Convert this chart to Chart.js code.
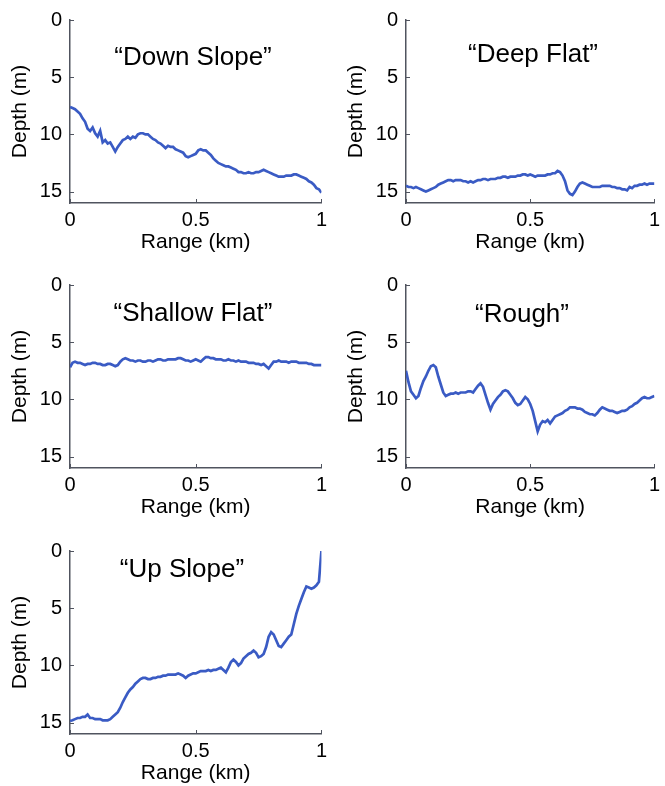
<!DOCTYPE html>
<html>
<head>
<meta charset="utf-8">
<script src="https://cdn.jsdelivr.net/npm/chart.js@4.4.0/dist/chart.umd.min.js"></script>
<style>
  body { margin: 0; background: #fff; }
  #wrap { position: relative; width: 665px; height: 786px; }
  #wrap canvas { position: absolute; }
</style>
</head>
<body>
<div id="wrap"></div>
<script>
// range along track (km), shared by all five profiles
const range = [
  0, 0.01, 0.02, 0.03, 0.04, 0.05, 0.06, 0.07, 0.08, 0.09,
  0.10, 0.11, 0.12, 0.13, 0.14, 0.15, 0.16, 0.17, 0.18, 0.19,
  0.20, 0.21, 0.22, 0.23, 0.24, 0.25, 0.26, 0.27, 0.28, 0.29,
  0.30, 0.31, 0.32, 0.33, 0.34, 0.35, 0.36, 0.37, 0.38, 0.39,
  0.40, 0.41, 0.42, 0.43, 0.44, 0.45, 0.46, 0.47, 0.48, 0.49,
  0.50, 0.51, 0.52, 0.53, 0.54, 0.55, 0.56, 0.57, 0.58, 0.59,
  0.60, 0.61, 0.62, 0.63, 0.64, 0.65, 0.66, 0.67, 0.68, 0.69,
  0.70, 0.71, 0.72, 0.73, 0.74, 0.75, 0.76, 0.77, 0.78, 0.79,
  0.80, 0.81, 0.82, 0.83, 0.84, 0.85, 0.86, 0.87, 0.88, 0.89,
  0.90, 0.91, 0.92, 0.93, 0.94, 0.95, 0.96, 0.97, 0.98, 0.99,
  1.00
];

// depth (m) for each profile
const downSlope = [
  7.6, 7.7, 7.8, 8.0, 8.2, 8.6, 8.9, 9.5, 9.7, 9.4,
  9.9, 10.2, 9.7, 10.7, 10.5, 10.8, 10.7, 11.1, 11.5, 11.1,
  10.8, 10.5, 10.4, 10.2, 10.4, 10.2, 10.3, 10.0, 9.9, 9.9,
  10.0, 10.0, 10.2, 10.4, 10.5, 10.7, 10.8, 11.0, 11.2, 11.0,
  11.1, 11.1, 11.3, 11.4, 11.5, 11.6, 11.9, 12.0, 11.9, 11.8,
  11.7, 11.4, 11.3, 11.4, 11.4, 11.6, 11.8, 12.1, 12.3, 12.5,
  12.6, 12.7, 12.8, 12.8, 12.9, 13.0, 13.1, 13.3, 13.3, 13.4,
  13.4, 13.3, 13.4, 13.4, 13.3, 13.3, 13.2, 13.1, 13.2, 13.3,
  13.4, 13.5, 13.6, 13.7, 13.7, 13.7, 13.6, 13.6, 13.6, 13.5,
  13.5, 13.6, 13.7, 13.8, 13.9, 14.1, 14.2, 14.4, 14.7, 14.8,
  15.1
];
const deepFlat = [
  14.5, 14.6, 14.6, 14.7, 14.6, 14.7, 14.8, 14.9, 15.0, 14.9,
  14.8, 14.7, 14.6, 14.4, 14.3, 14.2, 14.1, 14.0, 14.0, 14.1,
  14.0, 14.0, 14.0, 14.1, 14.1, 14.2, 14.1, 14.2, 14.1, 14.0,
  14.0, 13.9, 13.9, 14.0, 13.9, 13.9, 13.9, 13.8, 13.8, 13.7,
  13.7, 13.8, 13.7, 13.7, 13.7, 13.6, 13.6, 13.5, 13.5, 13.6,
  13.5, 13.6, 13.7, 13.6, 13.6, 13.6, 13.6, 13.5, 13.5, 13.4,
  13.4, 13.2, 13.3, 13.6, 14.1, 14.9, 15.2, 15.3, 15.0, 14.6,
  14.3, 14.2, 14.3, 14.4, 14.5, 14.6, 14.6, 14.6, 14.6, 14.5,
  14.5, 14.5, 14.5, 14.6, 14.6, 14.7, 14.7, 14.8, 14.8, 14.9,
  14.6, 14.7, 14.5, 14.5, 14.4, 14.4, 14.3, 14.4, 14.3, 14.3,
  14.3
];
const shallowFlat = [
  7.2, 6.8, 6.7, 6.8, 6.8, 6.9, 7.0, 6.9, 6.9, 6.8,
  6.8, 6.9, 6.9, 7.0, 7.0, 6.9, 6.9, 7.0, 7.1, 7.0,
  6.7, 6.5, 6.4, 6.5, 6.6, 6.6, 6.7, 6.6, 6.6, 6.7,
  6.7, 6.6, 6.6, 6.7, 6.6, 6.5, 6.5, 6.6, 6.6, 6.5,
  6.5, 6.5, 6.5, 6.4, 6.4, 6.5, 6.6, 6.6, 6.7, 6.6,
  6.5, 6.6, 6.7, 6.5, 6.3, 6.3, 6.4, 6.4, 6.5, 6.5,
  6.5, 6.6, 6.6, 6.5, 6.6, 6.6, 6.7, 6.6, 6.7, 6.7,
  6.7, 6.8, 6.8, 6.8, 6.9, 6.9, 7.0, 6.9, 7.1, 7.3,
  7.0, 6.7, 6.7, 6.6, 6.7, 6.7, 6.7, 6.8, 6.7, 6.7,
  6.7, 6.8, 6.8, 6.8, 6.8, 6.9, 6.9, 7.0, 7.0, 7.0,
  7.0
];
const rough = [
  7.5, 8.5, 9.3, 9.6, 9.9, 9.7, 9.0, 8.4, 8.0, 7.5,
  7.1, 7.0, 7.2, 8.0, 8.7, 9.4, 9.7, 9.6, 9.5, 9.5,
  9.4, 9.5, 9.4, 9.4, 9.4, 9.3, 9.3, 9.4, 9.1, 8.8,
  8.6, 8.9, 9.6, 10.3, 10.9, 10.4, 10.1, 9.8, 9.6, 9.3,
  9.2, 9.3, 9.6, 9.9, 10.3, 10.5, 10.4, 10.1, 9.8, 10.0,
  10.4, 11.0, 11.9, 12.8, 12.2, 11.9, 12.0, 11.8, 12.1, 11.8,
  11.5, 11.4, 11.3, 11.2, 11.0, 10.9, 10.7, 10.7, 10.7, 10.8,
  10.8, 10.9, 11.1, 11.2, 11.3, 11.3, 11.4, 11.2, 10.9, 10.7,
  10.8, 10.9, 11.0, 11.0, 11.1, 11.2, 11.1, 11.0, 11.0, 10.9,
  10.7, 10.6, 10.4, 10.3, 10.1, 9.9, 9.8, 9.9, 9.9, 9.8,
  9.7
];
const upSlope = [
  14.85, 14.8, 14.7, 14.6, 14.6, 14.5, 14.5, 14.3, 14.6, 14.6,
  14.7, 14.7, 14.7, 14.8, 14.8, 14.8, 14.7, 14.5, 14.3, 14.1,
  13.7, 13.2, 12.8, 12.4, 12.1, 11.9, 11.6, 11.4, 11.2, 11.1,
  11.1, 11.2, 11.2, 11.1, 11.1, 11.0, 11.0, 10.9, 10.9, 10.8,
  10.8, 10.8, 10.8, 10.7, 10.8, 10.9, 11.1, 10.9, 10.8, 10.7,
  10.7, 10.6, 10.5, 10.5, 10.5, 10.4, 10.5, 10.4, 10.4, 10.3,
  10.2, 10.4, 10.6, 10.2, 9.7, 9.5, 9.7, 10.0, 9.8, 9.4,
  9.2, 9.0, 8.9, 8.7, 8.9, 9.3, 9.2, 9.0, 8.4, 7.5,
  7.1, 7.3, 7.8, 8.3, 8.4, 8.1, 7.8, 7.5, 7.3, 6.4,
  5.5, 4.8, 4.2, 3.6, 3.1, 3.2, 3.3, 3.2, 3.0, 2.7,
  0.0
];

const depthTicks = [0, 5, 10, 15];
const rangeTicks = [0, 0.5, 1];
const rangeTickText = ['0', '0.5', '1'];

const family = '"Liberation Sans", Arial, sans-serif';
const axisColor = '#50545f';
const lineColor = '#3a5bc4';

// title text drawn inside the plot area
const panelTitle = {
  id: 'panelTitle',
  afterDatasetsDraw(chart, args, opts) {
    const {ctx, chartArea} = chart;
    ctx.save();
    ctx.font = '26px ' + family;
    ctx.fillStyle = '#000';
    ctx.textAlign = 'center';
    ctx.textBaseline = 'middle';
    ctx.fillText(opts.text, chartArea.left + opts.dx, chartArea.top + opts.dy);
    ctx.restore();
  }
};

// small matlab style ticks pointing into the plot
const innerTicks = {
  id: 'innerTicks',
  afterDraw(chart) {
    const {ctx, chartArea, scales} = chart;
    ctx.save();
    ctx.strokeStyle = axisColor;
    ctx.lineWidth = 1;
    scales.x.ticks.forEach(t => {
      const px = Math.round(scales.x.getPixelForValue(t.value)) + 0.5;
      ctx.beginPath();
      ctx.moveTo(px, chartArea.bottom);
      ctx.lineTo(px, chartArea.bottom - 4);
      ctx.stroke();
    });
    scales.y.ticks.forEach(t => {
      const py = Math.round(scales.y.getPixelForValue(t.value)) + 0.5;
      ctx.beginPath();
      ctx.moveTo(chartArea.left, py);
      ctx.lineTo(chartArea.left + 4, py);
      ctx.stroke();
    });
    ctx.restore();
  }
};

const panels = [
  {text: '“Down Slope”', depth: downSlope, left: 0, top: 0, width: 332, padRight: 8, dx: 123, dy: 38},
  {text: '“Deep Flat”', depth: deepFlat, left: 336, top: 0, width: 329, padRight: 7, dx: 127, dy: 35},
  {text: '“Shallow Flat”', depth: shallowFlat, left: 0, top: 265, width: 332, padRight: 8, dx: 123, dy: 29},
  {text: '“Rough”', depth: rough, left: 336, top: 265, width: 329, padRight: 7, dx: 116, dy: 30},
  {text: '“Up Slope”', depth: upSlope, left: 0, top: 531, width: 332, padRight: 8, dx: 112, dy: 19}
];

const wrap = document.getElementById('wrap');

panels.forEach(p => {
  const canvas = document.createElement('canvas');
  canvas.width = p.width;
  canvas.height = 262;
  canvas.style.left = p.left + 'px';
  canvas.style.top = p.top + 'px';
  wrap.appendChild(canvas);

  new Chart(canvas.getContext('2d'), {
    type: 'line',
    data: {
      datasets: [{
        data: range.map((r, i) => ({x: r, y: p.depth[i]})),
        borderColor: lineColor,
        borderWidth: 2.7,
        pointRadius: 0,
        tension: 0,
        fill: false
      }]
    },
    options: {
      responsive: false,
      animation: false,
      events: [],
      layout: {padding: {top: 17, right: p.padRight, left: 0, bottom: 0}},
      plugins: {
        legend: {display: false},
        tooltip: {enabled: false},
        panelTitle: {text: p.text, dx: p.dx, dy: p.dy}
      },
      scales: {
        x: {
          type: 'linear',
          min: 0,
          max: 1,
          afterBuildTicks: s => { s.ticks = rangeTicks.map(v => ({value: v})); },
          afterFit: s => { s.height = 59; },
          grid: {display: false, drawTicks: false},
          border: {display: true, color: axisColor, width: 1.5},
          ticks: {
            padding: 5, color: '#000', font: {family: family, size: 20}, maxRotation: 0, autoSkip: false,
            callback: (v, i) => rangeTickText[i]
          },
          title: {display: true, text: 'Range (km)', color: '#000', font: {family: family, size: 21}, padding: {top: 0, bottom: 7}}
        },
        y: {
          type: 'linear',
          reverse: true,
          min: 0,
          max: 16,
          afterBuildTicks: s => { s.ticks = depthTicks.map(v => ({value: v})); },
          afterFit: s => { s.width = 70; },
          grid: {display: false, drawTicks: false},
          border: {display: true, color: axisColor, width: 1.5},
          ticks: {padding: 8, color: '#000', font: {family: family, size: 20}},
          title: {display: true, text: 'Depth (m)', color: '#000', font: {family: family, size: 21}, padding: {top: 8, bottom: 0}}
        }
      }
    },
    plugins: [panelTitle, innerTicks]
  });
});
</script>
</body>
</html>
